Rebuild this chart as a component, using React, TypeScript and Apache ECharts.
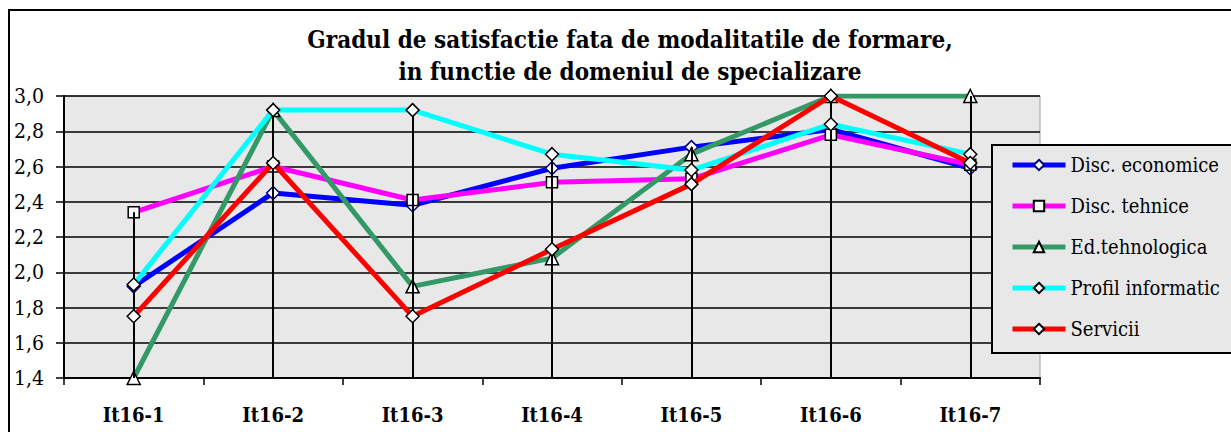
import React, { useEffect, useRef } from "react";
import * as echarts from "echarts";

const categories = ["It16-1", "It16-2", "It16-3", "It16-4", "It16-5", "It16-6", "It16-7"];
const discEconomice = [1.92, 2.45, 2.38, 2.59, 2.71, 2.81, 2.59];
const discTehnice = [2.34, 2.6, 2.41, 2.51, 2.53, 2.78, 2.61];
const edTehnologica = [1.4, 2.92, 1.92, 2.08, 2.67, 3.0, 3.0];
const profilInformatic = [1.93, 2.92, 2.92, 2.67, 2.58, 2.84, 2.67];
const servicii = [1.75, 2.62, 1.75, 2.13, 2.5, 3.0, 2.62];
const yTicks = [1.4, 1.6, 1.8, 2.0, 2.2, 2.4, 2.6, 2.8, 3.0];
const titleLines = [
  "Gradul de satisfactie fata de modalitatile de formare,",
  "in functie de domeniul de specializare",
];

const FONT = "DejaVu Serif Condensed";

export default function App() {
  const ref = useRef<HTMLDivElement>(null);
  useEffect(() => {
    document.body.style.margin = "0";
    if (!ref.current) return;
    const chart = echarts.init(ref.current, undefined, { renderer: "svg" });
    const allSeries = [discEconomice, discTehnice, edTehnologica, profilInformatic, servicii];
    const maxes = categories.map((_, i) => Math.max(...allSeries.map((s) => s[i])));
    const yMin = yTicks[0];
    const yMax = yTicks[yTicks.length - 1];
    const mk = (name: string, data: number[], color: string, symbol: string, size: number, border: string, z: number) => ({
      name,
      type: "line",
      data,
      z,
      symbol,
      symbolSize: size,
      lineStyle: { color, width: 5 },
      itemStyle: { color: "#ffffff", borderColor: border, borderWidth: 1.5 },
      emphasis: { disabled: true },
    });
    chart.setOption({
      animation: false,
      backgroundColor: "#ffffff",
      textStyle: { fontFamily: FONT },
      title: {
        text: titleLines.join("\n"),
        left: 625,
        top: 18,
        textAlign: "center",
        textStyle: { fontFamily: FONT, fontSize: 24, fontWeight: "bold", color: "#000", lineHeight: 32 },
      },
      graphic: [
        {
          type: "rect",
          shape: { x: 9, y: 10, width: 1400, height: 600 },
          style: { fill: "none", stroke: "#000", lineWidth: 2 },
          silent: true,
        },
      ],
      legend: {
        orient: "vertical",
        left: 992,
        top: 145,
        data: ["Disc. economice", "Disc. tehnice", "Ed.tehnologica", "Profil informatic", "Servicii"],
        backgroundColor: "#e8e8e8",
        borderColor: "#000",
        borderWidth: 2,
        borderRadius: 0,
        padding: [10, 40, 14, 18],
        itemWidth: 53,
        itemHeight: 13,
        itemGap: 21,
        lineStyle: { width: 5 },
        textStyle: { fontFamily: FONT, fontSize: 20, color: "#000" },
      },
      grid: {
        left: 64,
        right: 191,
        top: 96,
        bottom: 54,
        show: true,
        backgroundColor: "#e8e8e8",
        borderColor: "#a0a0a0",
        borderWidth: 1,
      },
      xAxis: {
        type: "category",
        data: categories,
        boundaryGap: true,
        axisLine: { lineStyle: { color: "#000", width: 2 } },
        axisTick: { show: true, length: 7, lineStyle: { color: "#000", width: 1.5 } },
        axisLabel: { fontFamily: FONT, fontSize: 20, fontWeight: "bold", color: "#000", margin: 27 },
        splitLine: { show: false },
      },
      yAxis: {
        type: "value",
        min: yMin,
        max: yMax,
        interval: 0.2,
        axisLine: { show: true, lineStyle: { color: "#000", width: 2 } },
        axisTick: { show: true, length: 8, lineStyle: { color: "#000", width: 1.5 } },
        axisLabel: {
          fontFamily: FONT,
          fontSize: 21,
          color: "#000",
          margin: 20,
          formatter: (v: number) => v.toFixed(1).replace(".", ","),
        },
        splitLine: { show: true, lineStyle: { color: "#000", width: 1.5 } },
      },
      series: [
        {
          name: "drop",
          type: "line",
          data: categories.map(() => null),
          z: 1,
          symbol: "none",
          silent: true,
          markLine: {
            silent: true,
            symbol: "none",
            label: { show: false },
            lineStyle: { color: "#000", width: 2, type: "solid" },
            data: categories.map((c, i) => [
              { coord: [c, maxes[i]] },
              { coord: [c, yMin] },
            ]),
          },
        },
        mk("Disc. economice", discEconomice, "#0000ff", "diamond", 13, "#000080", 2),
        mk("Disc. tehnice", discTehnice, "#ff00ff", "rect", 11, "#000", 3),
        mk("Ed.tehnologica", edTehnologica, "#339966", "triangle", 13, "#000", 4),
        mk("Profil informatic", profilInformatic, "#00ffff", "diamond", 13, "#000", 5),
        mk("Servicii", servicii, "#ff0000", "diamond", 13, "#000", 6),
      ],
    });
    return () => chart.dispose();
  }, []);
  return <div ref={ref} style={{ width: 1231, height: 432 }} />;
}
